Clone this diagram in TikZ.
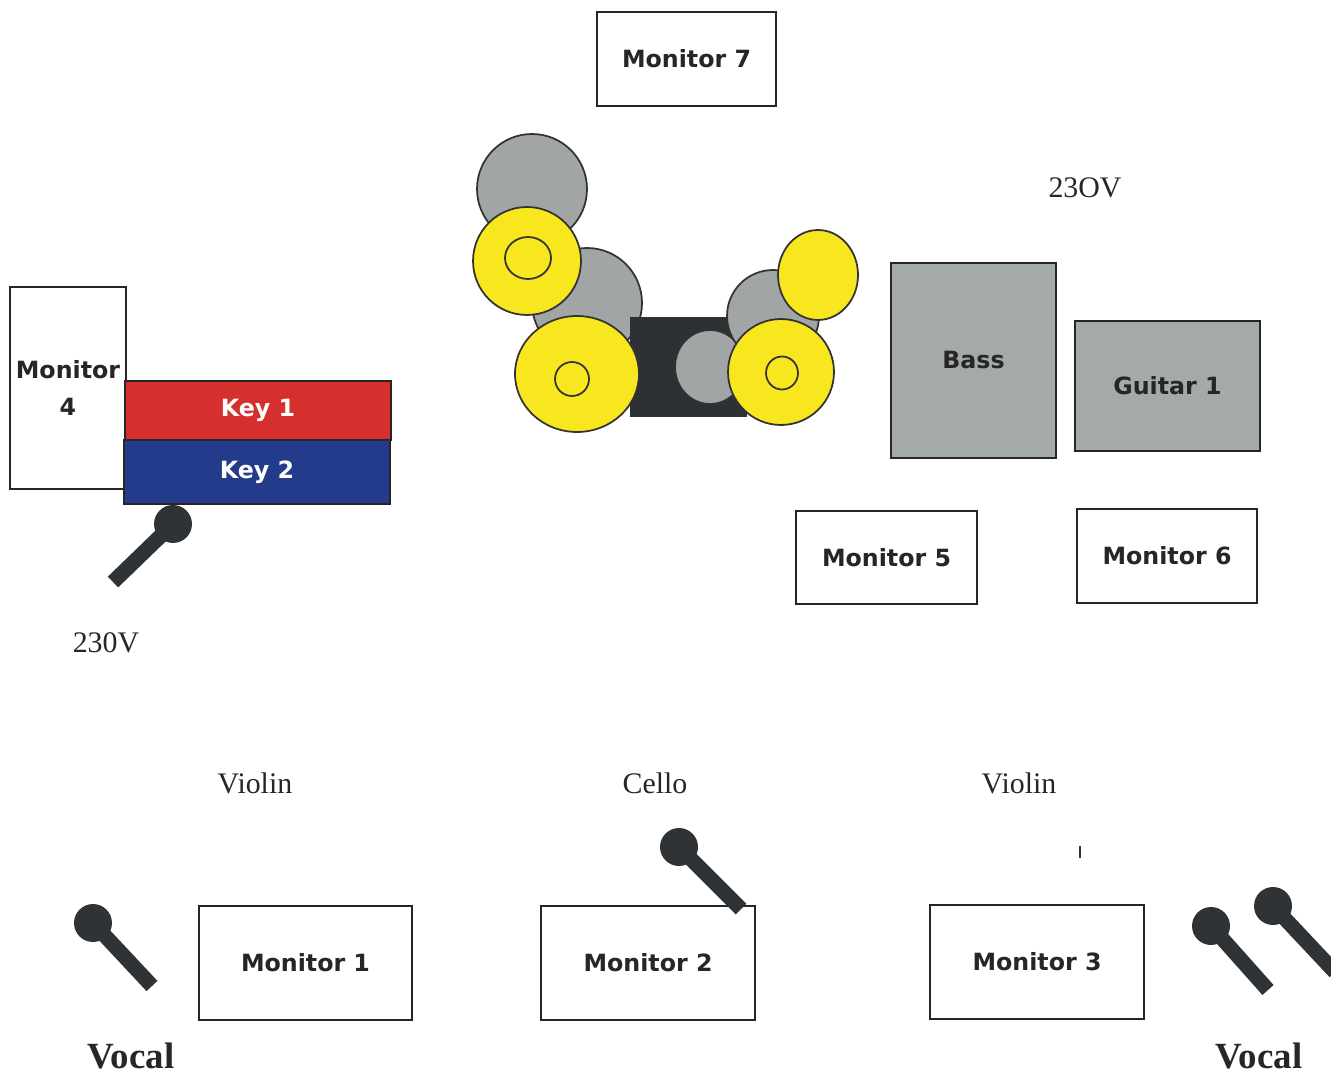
\documentclass[tikz,border=0pt]{standalone}
\usepackage{fontspec}
\setmainfont{Liberation Serif}
\newfontfamily\labfont{DejaVu Sans}
\begin{document}
\begin{tikzpicture}[x=0.02cm,y=-0.02cm,
  box/.style={draw=black!85,line width=1.1pt,fill=white,inner sep=0pt,align=center,
    font=\labfont\bfseries\fontsize{13.5}{16}\selectfont,text=black!85},
  amp/.style={box,fill=ampgray},
  keybox/.style={box,text=white,line width=1pt},
  serif/.style={font=\fontsize{17}{20}\selectfont,text=black!85},
  vocal/.style={font=\bfseries\fontsize{21}{24}\selectfont,text=black!85},
  stick/.style={draw=micgray,line width=8.5pt},
  headc/.style={fill=micgray},
  drumg/.style={fill=drumgray,draw=black!80,line width=1pt},
  drumy/.style={fill=drumyellow,draw=black!80,line width=1pt},
  inner/.style={draw=black!80,line width=1pt}]
\definecolor{ampgray}{HTML}{A4A9A9}
\definecolor{drumgray}{HTML}{A2A5A5}
\definecolor{drumyellow}{HTML}{F8E61F}
\definecolor{keyred}{HTML}{D5302E}
\definecolor{keyblue}{HTML}{243B8C}
\definecolor{micgray}{HTML}{2F3336}
\definecolor{kitdark}{HTML}{2D3134}
\useasboundingbox (0,0) rectangle (1331,1077);

% boxes
\node[box,minimum width=3.58cm,minimum height=1.88cm] (m7) at (686.5,59) {Monitor 7};
\node[box,minimum width=2.32cm,minimum height=4.04cm] (m4) at (68,388) {Monitor\\[5pt]4};
\node[keybox,fill=keyred,minimum width=5.32cm,minimum height=1.18cm] (k1) at (258,410.5) {Key 1};
\node[keybox,fill=keyblue,minimum width=5.32cm,minimum height=1.28cm] (k2) at (257,472) {Key 2};
\node[amp,minimum width=3.30cm,minimum height=3.90cm] (bass) at (973.5,360.5) {Bass};
\node[amp,minimum width=3.70cm,minimum height=2.60cm] (gtr) at (1167.5,386) {Guitar 1};
\node[box,minimum width=3.62cm,minimum height=1.86cm] (m5) at (886.5,557.5) {Monitor 5};
\node[box,minimum width=3.60cm,minimum height=1.88cm] (m6) at (1167,556) {Monitor 6};
\node[box,minimum width=4.26cm,minimum height=2.28cm] (m1) at (305.5,963) {Monitor 1};
\node[box,minimum width=4.28cm,minimum height=2.28cm] (m2) at (648,963) {Monitor 2};
\node[box,minimum width=4.28cm,minimum height=2.28cm] (m3) at (1037,962) {Monitor 3};

% drum kit
\filldraw[drumg] (532,189) circle[x radius=1.10cm,y radius=1.10cm];
\filldraw[drumg] (587,303) circle[x radius=1.10cm,y radius=1.10cm];
\fill[kitdark] (630,317) rectangle (747,417);
\filldraw[drumg] (710,367) circle[x radius=0.70cm,y radius=0.74cm];
\filldraw[drumg] (773,316) circle[x radius=0.92cm,y radius=0.92cm];
\filldraw[drumy] (527,261) circle[x radius=1.08cm,y radius=1.08cm];
\filldraw[drumy] (818,275) circle[x radius=0.80cm,y radius=0.90cm];
\filldraw[drumy] (577,374) circle[x radius=1.24cm,y radius=1.16cm];
\filldraw[drumy] (781,372) circle[x radius=1.06cm,y radius=1.06cm];
\draw[inner] (528,258) circle[x radius=0.46cm,y radius=0.42cm];
\draw[inner] (572,379) circle[x radius=0.34cm,y radius=0.34cm];
\draw[inner] (782,373) circle[x radius=0.32cm,y radius=0.33cm];

% labels
\node[serif] (v230a) at (106,643) {230V};
\node[serif] (v230b) at (1085,188) {23OV};
\node[serif] (vio1) at (255,783) {Violin};
\node[serif] (cello) at (655,783) {Cello};
\node[serif] (vio2) at (1019,783) {Violin};
\node[vocal] (voc1) at (131,1056) {Vocal};
\node[vocal] (voc2) at (1259,1056) {Vocal};

% microphones
\coordinate (h0) at (173,524); \coordinate (t0) at (113,582);
\coordinate (h1) at (93,923);  \coordinate (t1) at (152,986);
\coordinate (h2) at (679,847); \coordinate (t2) at (741,909);
\coordinate (h3) at (1211,926); \coordinate (t3) at (1268,990);
\coordinate (h4) at (1273,906); \coordinate (t4) at (1335,972);
\foreach \i in {0,...,4}{
  \draw[stick] (h\i) -- (t\i);
  \fill[headc] (h\i) circle[x radius=0.38cm,y radius=0.38cm];
}
% small tick
\coordinate (tk1) at (1080,846); \coordinate (tk2) at (1080,858);
\draw[black!80,line width=1.2pt] (tk1) -- (tk2);
\end{tikzpicture}
\end{document}
